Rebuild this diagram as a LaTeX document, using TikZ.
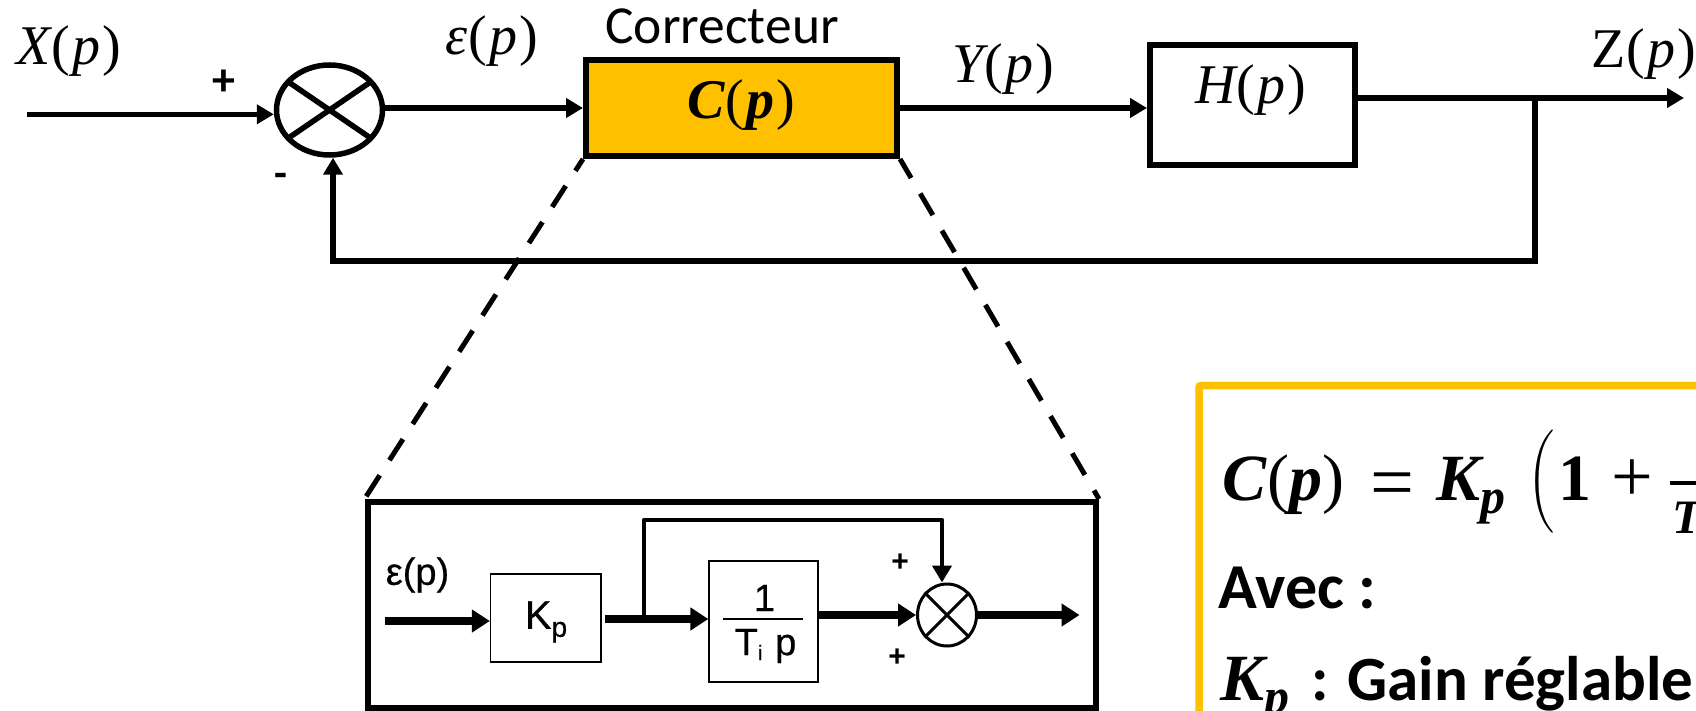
\documentclass[tikz,border=0pt]{standalone}
\usepackage{fontspec}
\usepackage{graphicx}
\usetikzlibrary{shapes.geometric,arrows.meta}
\setmainfont{Carlito}
\newfontfamily\serfont{Liberation Serif}
\newfontfamily\arialfont[FakeBold=0.6]{Liberation Sans}
\newfontfamily\arialbold{Liberation Sans Bold}
\definecolor{gold}{HTML}{FFC000}
\newcommand{\mi}[1]{{\itshape #1}}
\newcommand{\mb}[1]{{\bfseries\itshape #1}}
\newcommand{\sz}[1]{\fontsize{#1}{#1}\selectfont}
\newcommand{\pfun}[2]{#1\kern1pt(\kern2pt#2\kern2pt)}
\tikzset{
  conn/.style={line width=5.5pt,-{Triangle[length=17pt,width=19pt]}},
  sumnode/.style={ellipse,draw,line width=5.5pt,inner sep=0pt,minimum width=106pt,minimum height=90pt},
  blockmain/.style={rectangle,draw,line width=6pt,inner sep=0pt},
  mlabel/.style={inner sep=0pt,font=\serfont\sz{56}},
  bigmath/.style={inner sep=0pt,anchor=base west,font=\serfont\sz{66}},
  inconn/.style={line width=8pt,-{Triangle[length=18pt,width=22pt]}},
  inblock/.style={rectangle,draw,line width=1.3pt,inner sep=0pt},
  inlabel/.style={inner sep=0pt,font=\arialfont\sz{38}},
  inplus/.style={inner sep=0pt,font=\arialbold\sz{30}},
  dashline/.style={line width=5pt,dash pattern=on 25pt off 18pt},
}
\begin{document}
\begin{tikzpicture}[x=1pt,y=-1pt]
\useasboundingbox (0,0) rectangle (1696,711);
\clip (0,0) rectangle (1696,711);
\fill[white] (0,0) rectangle (1696,711);
% upper loop
\node[sumnode] (sum) at (329.5,110) {};
\node[blockmain,fill=gold,minimum width=311pt,minimum height=96pt] (corr) at (741.5,108) {};
\node[blockmain,minimum width=205pt,minimum height=120pt] (hbox) at (1252.5,105) {};
\coordinate (start) at (27,114.3);
\coordinate (zout) at (1684,98);
\coordinate (tap) at (1535,98);
\coordinate (fbr) at (1535,261);
\coordinate (fbl) at (333,261);
\draw[line width=5.5pt] ([shift={(-41pt,-28pt)}]sum.center) -- ([shift={(41pt,28pt)}]sum.center);
\draw[line width=5.5pt] ([shift={(-41pt,28pt)}]sum.center) -- ([shift={(41pt,-28pt)}]sum.center);
\draw[conn] (start) -- (sum.west |- start);
\draw[conn] ([yshift=2pt]sum.east) -- (corr.west);
\draw[conn] (corr.east) -- ([yshift=-3pt]hbox.west);
\draw[conn] ([yshift=7pt]hbox.east) -- (zout);
\draw[conn] (tap) -- (fbr) -- (fbl) -- (fbl |- sum.south);
\node[mlabel] (lx) at (69,51.5) {\pfun{\mi{X}}{\mi{p}}};
\node[mlabel] (le) at (491.5,41) {\pfun{\mi{ε}}{\mi{p}}};
\node[mlabel] (ly) at (1003,69) {\pfun{\mi{Y}}{\mi{p}}};
\node[mlabel] (lh) at (1250.5,90) {\pfun{\mi{H}}{\mi{p}}};
\node[mlabel] (lz) at (1643.5,54.5) {\pfun{Z}{\mi{p}}};
\node[mlabel] (lc) at (741,105) {\pfun{\mb{C}}{\mb{p}}};
\node[inner sep=0pt,font=\sz{53.5}] (lcorr) at (722,26) {Correcteur};
\node[inner sep=0pt,font=\bfseries\sz{46}] (lplus) at (224,83) {+};
\node[inner sep=0pt,font=\bfseries\sz{42}] (lminus) at (281,180) {-};
% inner detail box
\node[rectangle,draw,line width=6pt,inner sep=0pt,minimum width=728.5pt,minimum height=205.5pt] (inner) at (731.75,604.75) {};
\draw[dashline,dash phase=11pt] (corr.south west) -- (inner.north west);
\draw[dashline,dash phase=3pt] (corr.south east) -- (inner.north east);
\node[inblock,minimum width=110.5pt,minimum height=88pt] (kbox) at (545.75,618) {};
\node[inblock,minimum width=109pt,minimum height=121pt] (tbox) at (763.5,621.5) {};
\node[sumnode,line width=3pt,minimum width=59pt,minimum height=62pt] (isum) at (947,615) {};
\draw[line width=3pt] (isum.45) -- (isum.225);
\draw[line width=3pt] (isum.135) -- (isum.315);
\coordinate (ein) at (385,621);
\coordinate (iout) at (1079.5,615);
\coordinate (kout) at (604.5,619);
\coordinate (tapin) at (644,619);
\coordinate (tapup) at (644,520);
\coordinate (tapr) at (942,520);
\coordinate (barl) at (723,619);
\coordinate (barr) at (803,619);
\draw[inconn] (ein) -- (kbox.west |- ein);
\draw[inconn] (kout) -- (tbox.west |- kout);
\draw[inconn] (tbox.east |- isum.west) -- (isum.west);
\draw[inconn] (isum.east) -- (iout);
\draw[line width=4.5pt,line join=round,-{Triangle[length=17pt,width=19pt]}] (tapin) -- (tapup) -- (tapr) -- (tapr |- isum.north);
\draw[line width=1.5pt] (barl) -- (barr);
\node[inlabel] (iep) at (417.5,575) {ε(p)};
\node[inlabel,font=\arialfont\sz{40}] (ik) at (546,622) {K\raisebox{-8pt}{\sz{28}p}};
\node[inlabel] (ione) at (764.5,598) {1};
\node[inlabel] (itp) at (765.5,646) {T\raisebox{-5pt}{\sz{21}i}\,\,p};
\node[inplus] (ip1) at (900,563) {+};
\node[inplus] (ip2) at (897,658) {+};
% formula box
\draw[gold,line width=7.5pt,rounded corners=2pt] (1199,760) |- (1760,385.5);
\node[bigmath] (fc) at (1222,500) {\mb{C}\kern1pt(\mb{p})};
\node[inner sep=0pt,font=\serfont\sz{78}] (feq) at (1392.5,491) {=};
\node[bigmath] (fk) at (1436,500) {\mb{K}\raisebox{-13pt}{\sz{50}\mb{p}}};
\node[inner sep=0pt] (fpar) at (1541,481.5) {\resizebox*{!}{103pt}{$\Biggl($}};
\node[bigmath] (fone) at (1558,500) {\textbf{1}};
\node[inner sep=0pt,font=\serfont\sz{74}] (fplus) at (1632.5,481) {+};
\coordinate (fbarl) at (1670,483);
\coordinate (fbarr) at (1696,483);
\draw[line width=4pt] (fbarl) -- (fbarr);
\node[inner sep=0pt,anchor=base west,font=\serfont\sz{48}] (ft) at (1672,533) {\mb{T}};
\node[inner sep=0pt,anchor=base west,font=\bfseries\sz{64}] (favec) at (1218,608) {Avec :};
\node[bigmath] (fk2) at (1220,700) {\mb{K}\raisebox{-13pt}{\sz{50}\mb{p}}};
\node[inner sep=0pt,anchor=base west,font=\bfseries\sz{63}] (fgain) at (1311,700) {: Gain réglable};
\end{tikzpicture}
\end{document}
